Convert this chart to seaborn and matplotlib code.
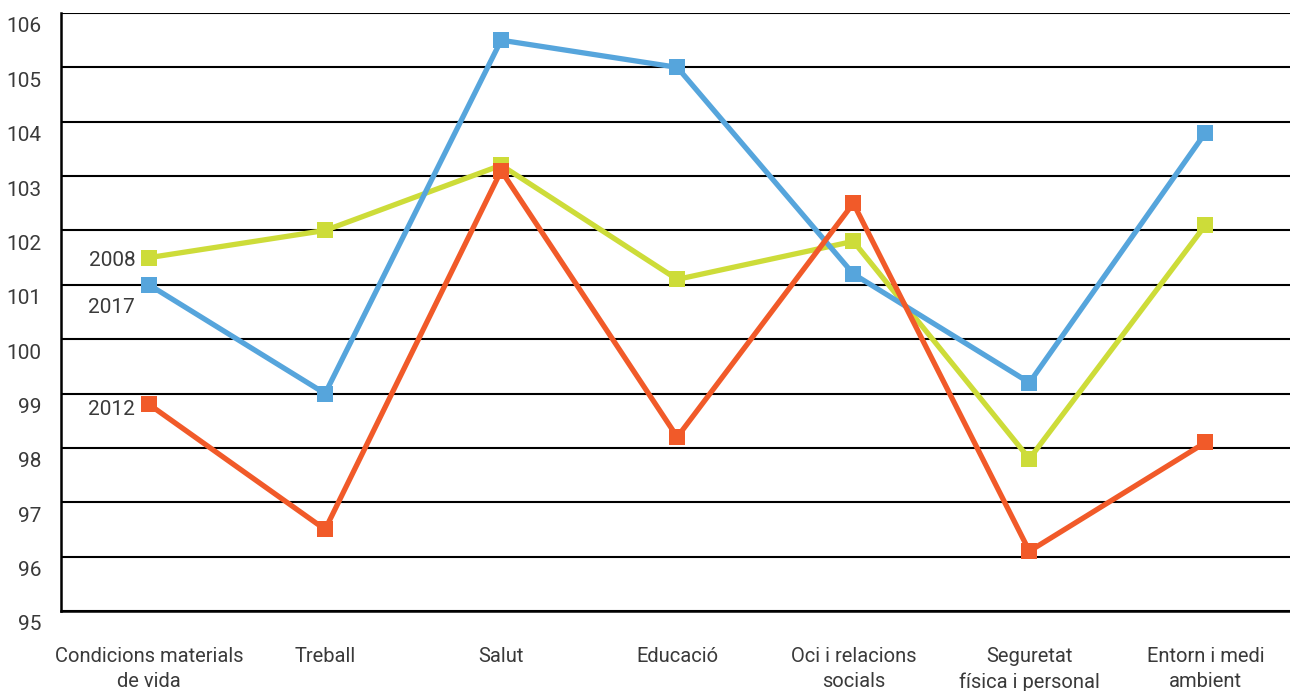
import pandas as pd
import numpy as np
import seaborn as sns
import matplotlib.pyplot as plt
from matplotlib.transforms import ScaledTranslation
from matplotlib.ticker import FixedLocator

categories = ["Condicions materials\nde vida", "Treball", "Salut", "Educació",
              "Oci i relacions\nsocials", "Seguretat\nfísica i personal", "Entorn i medi\nambient"]
years = ["2008", "2017", "2012"]
vals_2008 = [101.5, 102.0, 103.2, 101.1, 101.8, 97.8, 102.1]
vals_2017 = [101.0, 99.0, 105.5, 105.0, 101.2, 99.2, 103.8]
vals_2012 = [98.8, 96.5, 103.1, 98.2, 102.5, 96.1, 98.1]
colors = {"2008": "#cddc39", "2017": "#56a5dc", "2012": "#f15a29"}

df = pd.DataFrame({
    "cat": categories * 3,
    "year": np.repeat(years, len(categories)),
    "value": vals_2008 + vals_2017 + vals_2012,
})

sns.set_style("white")
plt.rcParams["font.family"] = ["Roboto", "DejaVu Sans"]
plt.rcParams["font.weight"] = "normal"
txt_color = "#3a3a3a"

fig = plt.figure(figsize=(12.9, 6.91), dpi=100)
ax = fig.add_axes([61 / 1290, 80 / 691, 1 - 61 / 1290, (611 - 13) / 691])

sns.lineplot(data=df, x="cat", y="value", hue="year", hue_order=years, palette=colors,
             marker="s", markersize=11.5, markeredgewidth=0, linewidth=3.8,
             sort=False, legend=False, ax=ax, zorder=3)

ax.set_ylim(95, 106)
ax.set_xlim(-0.5, 6.48)
ax.set_yticks(range(95, 107))
ax.yaxis.grid(True, color="black", linewidth=1.5)
ax.set_axisbelow(True)
for s in ["top", "right"]:
    ax.spines[s].set_visible(False)
for s in ["left", "bottom"]:
    ax.spines[s].set_color("black")
    ax.spines[s].set_linewidth(1.8)

ax.set_xlabel("")
ax.set_ylabel("")
ax.tick_params(axis="y", length=0, pad=14, labelsize=15, labelcolor=txt_color)
ax.set_xticks(range(len(categories)), categories, linespacing=1.38)
ax.tick_params(axis="x", which="major", length=0, pad=26, labelsize=14.5, labelcolor=txt_color)
ax.xaxis.set_minor_locator(FixedLocator(np.arange(0.5, 6, 1)))
ax.tick_params(axis="x", which="minor", direction="in", length=10, width=1.5, color="black")

offset = ScaledTranslation(0, -0.12, fig.dpi_scale_trans)
for lab in ax.get_yticklabels():
    lab.set_transform(lab.get_transform() + offset)

# series labels next to the first point
label_offsets = {"2008": -2, "2017": -16, "2012": -4}
for yr, vals in zip(years, [vals_2008, vals_2017, vals_2012]):
    ax.annotate(yr, xy=(0, vals[0]), xytext=(-10, label_offsets[yr]), textcoords="offset points",
                ha="right", va="center", fontsize=15, color=txt_color)

fig.savefig("out.png", dpi=100)
